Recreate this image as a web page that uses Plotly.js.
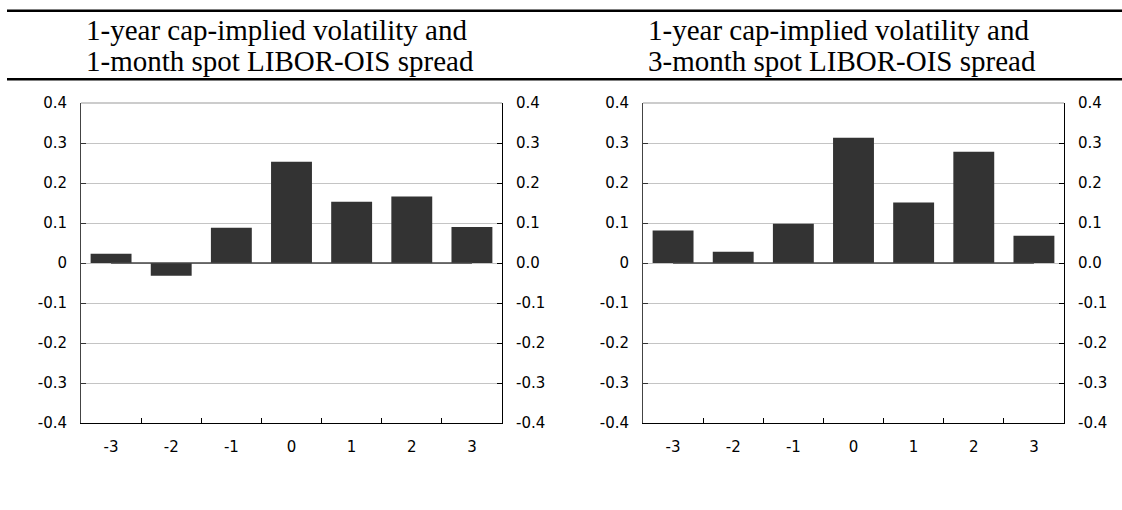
<!DOCTYPE html>
<html>
<head>
<meta charset="utf-8">
<script src="https://cdn.plot.ly/plotly-3.0.1.min.js"></script>
<style>
html,body{margin:0;padding:0;background:#fff;}
#chart{width:1122px;height:510px;}
</style>
</head>
<body>
<div id="chart"></div>
<script>
// ---- data ----
var categories = ['-3', '-2', '-1', '0', '1', '2', '3'];
var spread1m = [0.023, -0.032, 0.088, 0.253, 0.153, 0.166, 0.090];
var spread3m = [0.081, 0.028, 0.098, 0.313, 0.151, 0.278, 0.068];
var baseline = [0, 0, 0, 0, 0, 0, 0];
var yTickVals = [-0.4, -0.3, -0.2, -0.1, 0, 0.1, 0.2, 0.3, 0.4];
var yTickTextLeft = ['-0.4', '-0.3', '-0.2', '-0.1', '0', '0.1', '0.2', '0.3', '0.4'];
var yTickTextRight = ['-0.4', '-0.3', '-0.2', '-0.1', '0.0', '0.1', '0.2', '0.3', '0.4'];
var titleLeft = ['1-year cap-implied volatility and', '1-month spot LIBOR-OIS spread'];
var titleRight = ['1-year cap-implied volatility and', '3-month spot LIBOR-OIS spread'];

// ---- layout helpers ----
var W = 1122, H = 510;
var plotTop = 103.3, plotBottom = 423.3;
var plotH = plotBottom - plotTop;
function px(x) { return x / W; }
function py(y) { return (plotBottom - y) / plotH; }

var barColor = '#333333';
var tickFont = {family: 'DejaVu Sans, Arial, sans-serif', size: 15, color: '#000'};

var traces = [
  {type: 'bar', x: categories, y: spread1m, xaxis: 'x', yaxis: 'y',
   marker: {color: barColor, line: {width: 0}}, hoverinfo: 'skip'},
  {type: 'scatter', mode: 'lines', x: categories, y: baseline, xaxis: 'x', yaxis: 'y2',
   line: {color: '#444', width: 1.5}, hoverinfo: 'skip'},
  {type: 'bar', x: categories, y: spread3m, xaxis: 'x2', yaxis: 'y3',
   marker: {color: barColor, line: {width: 0}}, hoverinfo: 'skip'},
  {type: 'scatter', mode: 'lines', x: categories, y: baseline, xaxis: 'x2', yaxis: 'y4',
   line: {color: '#444', width: 1.5}, hoverinfo: 'skip'}
];

function yLeft(anchor) {
  return {
    anchor: anchor, range: [-0.4, 0.4], tickmode: 'array', tickvals: yTickVals, ticktext: yTickTextLeft,
    showline: true, linecolor: '#444', linewidth: 1,
    ticks: 'inside', ticklen: 5, tickcolor: '#333', tickwidth: 1,
    showgrid: true, gridcolor: '#c4c4c4', gridwidth: 1, zeroline: false,
    tickfont: tickFont, ticklabelstandoff: 10, fixedrange: true
  };
}
function yRight(anchor, over) {
  return {
    anchor: anchor, overlaying: over, side: 'right', range: [-0.4, 0.4],
    tickmode: 'array', tickvals: yTickVals, ticktext: yTickTextRight,
    showline: true, linecolor: '#000', linewidth: 1,
    ticks: 'inside', ticklen: 5, tickcolor: '#000', tickwidth: 1,
    showgrid: false, zeroline: false,
    tickfont: tickFont, ticklabelstandoff: 10, fixedrange: true
  };
}
function xAxis(domain, anchor) {
  return {
    domain: domain, anchor: anchor, type: 'category', tickson: 'boundaries',
    showline: true, linecolor: '#000', linewidth: 1,
    ticks: 'inside', ticklen: 5, tickcolor: '#000', tickwidth: 1,
    showgrid: false, zeroline: false,
    tickfont: tickFont, ticklabelstandoff: 10, fixedrange: true
  };
}

var leftDomain = [px(81), px(502)];
var rightDomain = [px(643), px(1064)];

function titleAnn(lines, x) {
  return [
    {text: lines[0], x: x, y: py(29.9), xref: 'paper', yref: 'paper', xanchor: 'left', yanchor: 'middle',
     showarrow: false, font: {family: 'Liberation Serif, Times New Roman, serif', size: 29, color: '#000'}},
    {text: lines[1], x: x, y: py(61.3), xref: 'paper', yref: 'paper', xanchor: 'left', yanchor: 'middle',
     showarrow: false, font: {family: 'Liberation Serif, Times New Roman, serif', size: 29, color: '#000'}}
  ];
}

var layout = {
  width: W, height: H,
  margin: {l: 0, r: 0, t: plotTop, b: H - plotBottom, pad: 0},
  paper_bgcolor: '#fff', plot_bgcolor: '#fff',
  showlegend: false, bargap: 0.32,
  xaxis: xAxis(leftDomain, 'y'),
  yaxis: yLeft('x'),
  yaxis2: yRight('x', 'y'),
  xaxis2: xAxis(rightDomain, 'y3'),
  yaxis3: yLeft('x2'),
  yaxis4: yRight('x2', 'y3'),
  annotations: titleAnn(titleLeft, px(84)).concat(titleAnn(titleRight, px(646))),
  shapes: [
    {type: 'line', xref: 'paper', yref: 'paper', x0: px(7), x1: 1, y0: py(11), y1: py(11),
     line: {color: '#000', width: 2.5}},
    {type: 'line', xref: 'paper', yref: 'paper', x0: px(7), x1: 1, y0: py(79.5), y1: py(79.5),
     line: {color: '#000', width: 2.5}},
    {type: 'line', xref: 'paper', yref: 'paper', x0: leftDomain[0], x1: leftDomain[1], y0: 1, y1: 1,
     line: {color: '#999', width: 1}},
    {type: 'line', xref: 'paper', yref: 'paper', x0: rightDomain[0], x1: rightDomain[1], y0: 1, y1: 1,
     line: {color: '#999', width: 1}}
  ]
};

Plotly.newPlot('chart', traces, layout, {displayModeBar: false, staticPlot: true});
</script>
</body>
</html>
